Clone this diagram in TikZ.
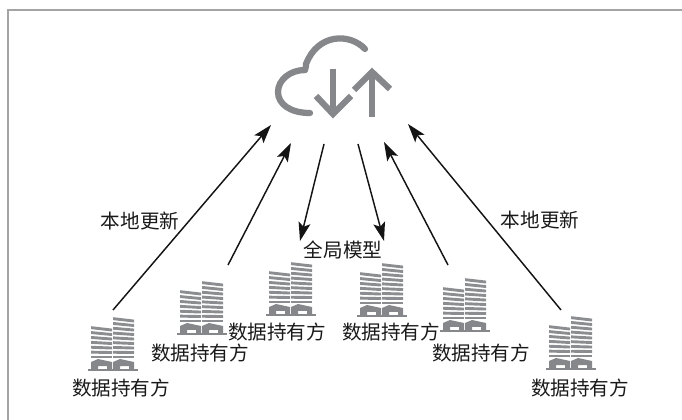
\documentclass[tikz,border=0pt]{standalone}
\usepackage{fontspec}
\setmainfont{Noto Sans CJK SC}
\usetikzlibrary{arrows.meta}
\definecolor{icon}{HTML}{85878A}
\definecolor{frameg}{HTML}{A4A4A4}
\tikzset{
  x=0.75pt,y=-0.75pt,
  lab/.style={font=\fontsize{14.7pt}{16pt}\selectfont,inner sep=0pt,text=black!90},
  conn/.style={line width=1.1pt,-{Stealth[length=14pt,width=9pt,inset=3pt]},black!92},
  iconline/.style={draw=icon,line width=4.7pt},
  pics/tower/.style={code={
    % origin: left end of the ground line
    \fill[icon] (0,-1.6) rectangle (50,0.4);
    \fill[icon] (3,-1) -- (3,-9) -- (10,-12) -- (24,-9) -- (24,-1) -- (19,-1) -- (19,-5) -- (10,-5) -- (10,-1) -- cycle;
    \fill[icon] (25,-1) -- (25,-9) -- (32,-12) -- (46,-9) -- (46,-1) -- (41,-1) -- (41,-5) -- (32,-5) -- (32,-1) -- cycle;
    \foreach \i in {0,...,6}{
      \pgfmathsetmacro{\dy}{2.4*\i/6}
      \fill[icon!95] (3,-12.5-\i*4.5-\dy) -- (24,-12.5-\i*4.5) -- (24,-15.4-\i*4.5) -- (3,-15.4-\i*4.5-\dy) -- cycle;
    }
    \foreach \i in {0,...,8}{
      \pgfmathsetmacro{\dy}{2.4*\i/8}
      \fill[icon!95] (25,-12.5-\i*4.5-\dy) -- (46,-12.5-\i*4.5) -- (46,-15.4-\i*4.5) -- (25,-15.4-\i*4.5-\dy) -- cycle;
    }
  }}
}
\begin{document}
\begin{tikzpicture}
\useasboundingbox (0,0) rectangle (682,420);
\draw[frameg,line width=1.5pt] (7.5,420) -- (7.5,10.5) -- (682,10.5);
% cloud
\draw[iconline,line cap=round] (365,49) .. controls (350,33) and (318,33) .. (306,64) .. controls (306,66) .. (305,70);
\draw[iconline,line cap=round] (305,70) .. controls (290,70) and (278,80) .. (278,92) .. controls (278,104) and (290,113) .. (310,113);
\draw[iconline] (333,69) -- (333,113);
\draw[iconline] (316,96) -- (333,114) -- (351,96);
\draw[iconline] (372,117) -- (372,73);
\draw[iconline] (354,90) -- (372,72) -- (390,89);
\coordinate (cl1) at (271,125);
\coordinate (cl2) at (291,143);
\coordinate (cl3) at (324,144);
\coordinate (cl4) at (358,144);
\coordinate (cl5) at (384,142);
\coordinate (cl6) at (408,124);
% buildings
\pic at (88,371) {tower};
\pic at (177,335) {tower};
\pic at (266,316) {tower};
\pic at (357,317) {tower};
\pic at (440,332) {tower};
\pic at (546,370) {tower};
% free ends
\coordinate (b1) at (113,310);
\coordinate (b2) at (228,265);
\coordinate (b3) at (300,241);
\coordinate (b4) at (384,241);
\coordinate (b5) at (448,265);
\coordinate (b6) at (561,310);
\draw[conn] (b1) -- (cl1);
\draw[conn] (b2) -- (cl2);
\draw[conn] (cl3) -- (b3);
\draw[conn] (cl4) -- (b4);
\draw[conn] (b5) -- (cl5);
\draw[conn] (b6) -- (cl6);
% labels
\node[lab] (o1) at (121,388) {数据持有方};
\node[lab] (o2) at (200,353) {数据持有方};
\node[lab] (o3) at (277,332) {数据持有方};
\node[lab] (o4) at (391,332) {数据持有方};
\node[lab] (o5) at (481,353) {数据持有方};
\node[lab] (o6) at (580,388) {数据持有方};
\node[lab] (g) at (343,250) {全局模型};
\node[lab] (u1) at (140,221) {本地更新};
\node[lab] (u2) at (540,220) {本地更新};
\end{tikzpicture}
\end{document}
